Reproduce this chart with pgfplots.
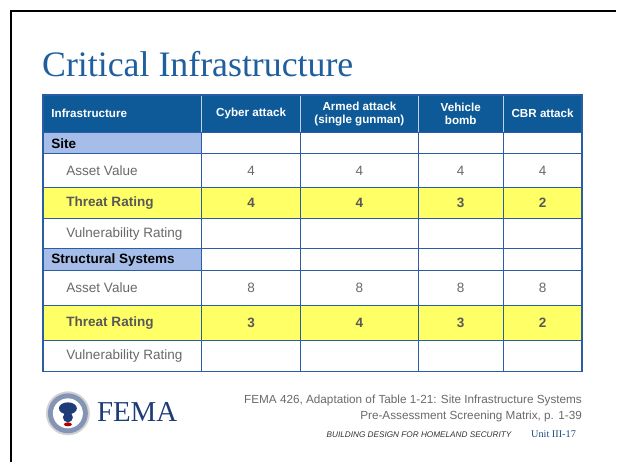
\documentclass[border=0pt]{standalone}
\usepackage{pgfplots}
\pgfplotsset{compat=1.18}
\usepackage{fontspec}
\setmainfont{Liberation Serif}
\setsansfont{Liberation Sans}
\newfontfamily\arial{Liberation Sans}

\definecolor{hdrblue}{RGB}{14,90,152}
\definecolor{secblue}{RGB}{165,189,232}
\definecolor{hiyel}{RGB}{255,255,102}
\definecolor{gridblue}{RGB}{43,92,166}
\definecolor{titleblue}{RGB}{31,95,158}
\definecolor{txtgray}{RGB}{105,105,105}
\definecolor{femablue}{RGB}{30,60,120}

% numbers in the table: column centre, row centre, value
\pgfplotstableread{
x y v
251.5 171 4
360 171 4
461.5 171 4
543.5 171 4
251.5 288.5 8
360 288.5 8
461.5 288.5 8
543.5 288.5 8
}\assetvals
\pgfplotstableread{
x y v
251.5 203.5 4
360 203.5 4
461.5 203.5 3
543.5 203.5 2
251.5 323.5 3
360 323.5 4
461.5 323.5 3
543.5 323.5 2
}\threatvals

\begin{document}
\begin{tikzpicture}
\begin{axis}[
  width=617bp, height=463bp, scale only axis,
  xmin=0, xmax=617, ymin=0, ymax=463, y dir=reverse,
  axis lines=none, clip=false,
]
% page background and frame
\fill[white] (axis cs:0,0) rectangle (axis cs:617,463);
\draw[black, line width=2pt] (axis cs:11.5,463) -- (axis cs:11.5,11.5) -- (axis cs:617,11.5);

\node[anchor=base west, text=titleblue, font=\fontsize{36}{36}\selectfont, inner sep=0pt]
  at (axis cs:42,77) {Critical Infrastructure};

% cell fills
\fill[hdrblue] (axis cs:43,95) rectangle (axis cs:583,133);
\fill[secblue] (axis cs:43,133) rectangle (axis cs:202,154);
\fill[secblue] (axis cs:43,249) rectangle (axis cs:202,271);
\fill[hiyel] (axis cs:43,188) rectangle (axis cs:583,219);
\fill[hiyel] (axis cs:43,306) rectangle (axis cs:583,341);

% grid
\draw[color=secblue!60, line width=1pt] (axis cs:43,94.5) -- (axis cs:583,94.5);
\pgfplotsinvokeforeach{202,301,419,504}{
  \draw[color=secblue!70!white, line width=0.8pt] (axis cs:#1,95) -- (axis cs:#1,133);
  \draw[gridblue, line width=1pt] (axis cs:#1,133) -- (axis cs:#1,372);
}
\pgfplotsinvokeforeach{154,188,219,249,271,306,341}{
  \draw[gridblue, line width=1pt] (axis cs:43,#1) -- (axis cs:583,#1);
}
\draw[gridblue, line width=1pt] (axis cs:43,133) -- (axis cs:583,133);
\draw[gridblue, line width=1.4pt] (axis cs:43,95) rectangle (axis cs:583,372);

% header text
\begin{scope}[every node/.style={text=white, font=\arial\bfseries\fontsize{11.7}{12.5}\selectfont, align=center}]
\node[anchor=west] at (axis cs:48,114) {Infrastructure};
\node at (axis cs:251.5,114) {Cyber attack};
\node at (axis cs:360,114) {Armed attack\\(single gunman)};
\node at (axis cs:461.5,114) {Vehicle\\bomb};
\node at (axis cs:543.5,114) {CBR attack};
\end{scope}

% row labels
\begin{scope}[every node/.style={anchor=west, font=\arial\fontsize{13.6}{14}\selectfont}]
\node[font=\arial\bfseries\fontsize{13.6}{14}\selectfont] at (axis cs:48,143.5) {Site};
\node[text=txtgray] at (axis cs:63,171) {Asset Value};
\node[text=txtgray!85!black, font=\arial\bfseries\fontsize{13.6}{14}\selectfont] at (axis cs:63,203.5) {Threat Rating};
\node[text=txtgray] at (axis cs:63,234) {Vulnerability Rating};
\node[font=\arial\bfseries\fontsize{13.6}{14}\selectfont] at (axis cs:48,260) {Structural Systems};
\node[text=txtgray] at (axis cs:63,288.5) {Asset Value};
\node[text=txtgray!85!black, font=\arial\bfseries\fontsize{13.6}{14}\selectfont] at (axis cs:63,323.5) {Threat Rating};
\node[text=txtgray] at (axis cs:63,356.5) {Vulnerability Rating};
\end{scope}

% values
\addplot[only marks, mark=none, nodes near coords, point meta=explicit symbolic,
  every node near coord/.append style={anchor=center, text=txtgray, font=\arial\fontsize{13.6}{14}\selectfont}]
  table[x=x, y=y, meta=v] {\assetvals};
\addplot[only marks, mark=none, nodes near coords, point meta=explicit symbolic,
  every node near coord/.append style={anchor=center, text=txtgray!85!black, font=\arial\bfseries\fontsize{13.6}{14}\selectfont}]
  table[x=x, y=y, meta=v] {\threatvals};

% footer: logo (seal + word mark)
\fill[gray!35] (axis cs:68,414) circle[radius=22bp];
\fill[femablue!55!white] (axis cs:68,414) circle[radius=20bp];
\fill[white] (axis cs:68,414) circle[radius=15bp];
\fill[femablue] (axis cs:68,409) ellipse[x radius=9bp, y radius=6bp];
\fill[femablue] (axis cs:68,418) circle[radius=5bp];
\fill[red!70!black] (axis cs:68,425) ellipse[x radius=4bp, y radius=2bp];
\node[anchor=base west, text=femablue, font=\fontsize{29}{29}\selectfont, inner sep=0pt]
  at (axis cs:97,422) {FEMA};

% footer: source
\node[anchor=base east, text=txtgray, font=\arial\fontsize{11.8}{12}\selectfont, inner sep=0pt]
  at (axis cs:583,404) {FEMA 426, Adaptation of Table 1-21: Site Infrastructure Systems};
\node[anchor=base east, text=txtgray, font=\arial\fontsize{11.8}{12}\selectfont, inner sep=0pt]
  at (axis cs:583,420) {Pre-Assessment Screening Matrix, p. 1-39};
\node[anchor=base west, text=black!80, font=\arial\itshape\fontsize{8.25}{9}\selectfont, inner sep=0pt]
  at (axis cs:327,438) {BUILDING DESIGN FOR HOMELAND SECURITY};
\node[anchor=base east, text=titleblue!80!black, font=\fontsize{10.3}{11}\selectfont, inner sep=0pt]
  at (axis cs:577,438) {Unit III-17};
\end{axis}
\end{tikzpicture}
\end{document}
